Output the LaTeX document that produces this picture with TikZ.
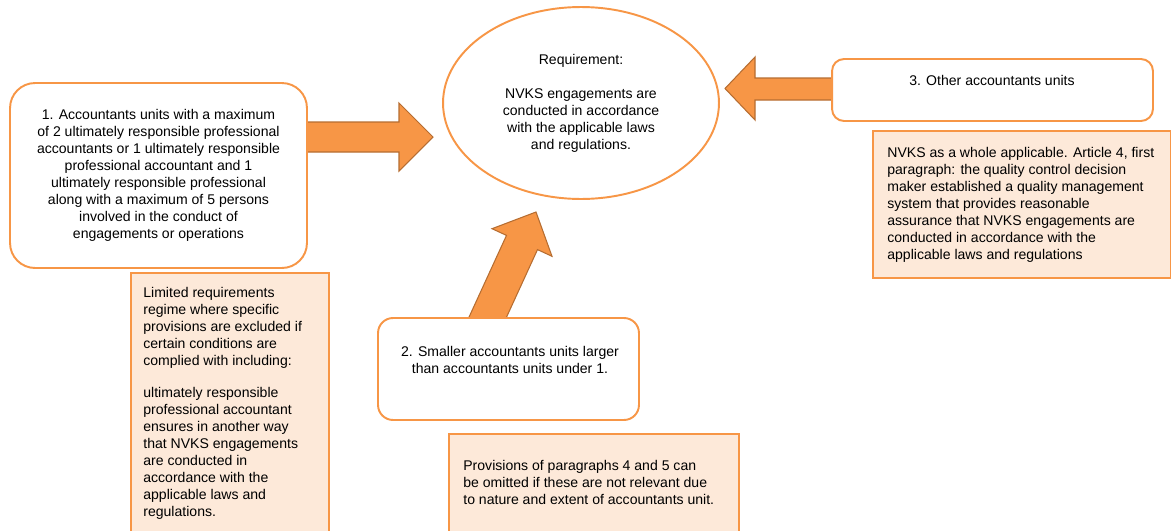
\documentclass[tikz,border=0pt]{standalone}
\usepackage{fontspec}
\setmainfont{Liberation Sans}
\usetikzlibrary{shapes.geometric}

\definecolor{accent}{HTML}{F79646}
\definecolor{accentdark}{HTML}{B66D31}
\definecolor{notefill}{HTML}{FDE9D9}

\begin{document}
\begin{tikzpicture}[x=0.02cm, y=-0.02cm,
    every node/.style={font=\fontsize{8}{9.7}\selectfont},
    roundbox/.style={draw=accent, line width=1.1pt, fill=white, rounded corners=#1},
    roundbox/.default=0.3cm,
    notebox/.style={draw=accent, line width=1.1pt, fill=notefill, inner sep=0pt},
    notetext/.style={align=left, inner sep=0pt, anchor=north west},
    blockarrow/.style={fill=accent, draw=accentdark, line width=0.6pt, line join=miter}]

    % Page size (1 unit = 1 px)
    \useasboundingbox (0,0) rectangle (1171,531);

    % Block arrows (drawn first, so that the boxes cover their tails)
    \draw[blockarrow] (300,122) -- (399,122) -- (399,103) -- (433,137)
        -- (399,171) -- (399,152) -- (300,152) -- cycle;
    \draw[blockarrow] (840,78) -- (755,78) -- (755,57) -- (725,88.5)
        -- (755,120) -- (755,100) -- (840,100) -- cycle;
    \draw[blockarrow] (464.8,326.3) -- (506.5,235.4) -- (492,228.7) -- (536,212)
        -- (552,256.3) -- (537.5,249.6) -- (495.8,340.5) -- cycle;

    % Requirement in the middle
    \node[ellipse, draw=accent, line width=1.1pt, fill=white, inner sep=0pt,
          minimum width=5.52cm, minimum height=3.84cm, align=center] (req) at (581,103)
        {Requirement:\\[9.7pt]NVKS engagements are\\conducted in accordance\\
         with the applicable laws\\and regulations.};

    % 1. small units
    \node[roundbox=0.5cm, minimum width=5.94cm, minimum height=3.7cm, align=center]
        (unit1) at (158.5,175.5)
        {1. Accountants units with a maximum\\of 2 ultimately responsible professional\\
         accountants or 1 ultimately responsible\\professional accountant and 1\\
         ultimately responsible professional\\along with a maximum of 5 persons\\
         involved in the conduct of\\engagements or operations};

    % 2. smaller units
    \node[roundbox, minimum width=5.22cm, minimum height=2.04cm] (unit2) at (508.5,369) {};
    \node[align=center, inner sep=0pt] (unit2text) at (510,360)
        {2. Smaller accountants units larger\\than accountants units under 1.};

    % 3. other units
    \node[roundbox=0.24cm, minimum width=6.42cm, minimum height=1.24cm] (unit3) at (992.5,90) {};
    \node[inner sep=0pt] (unit3text) at (992,80) {3. Other accountants units};

    % Notes below the units
    \node[notebox, anchor=north west, minimum width=3.96cm, minimum height=5.8cm]
        (note1) at (130,272) {};
    \node[notetext] (note1text) at (143,287)
        {Limited requirements\\regime where specific\\provisions are excluded if\\
         certain conditions are\\complied with including:\\[8.5pt]
         ultimately responsible\\professional accountant\\ensures in another way\\
         that NVKS engagements\\are conducted in\\accordance with the\\
         applicable laws and\\regulations.};

    \node[notebox, anchor=north west, minimum width=5.8cm, minimum height=2.6cm]
        (note2) at (448,433) {};
    \node[notetext] (note2text) at (463,460)
        {Provisions of paragraphs 4 and 5 can\\be omitted if these are not relevant due\\
         to nature and extent of accountants unit.};

    \node[notebox, anchor=north west, minimum width=5.96cm, minimum height=2.94cm]
        (note3) at (872,130) {};
    \node[notetext] (note3text) at (887,147)
        {NVKS as a whole applicable. Article 4, first\\paragraph: the quality control decision\\
         maker established a quality management\\system that provides reasonable\\
         assurance that NVKS engagements are\\conducted in accordance with the\\
         applicable laws and regulations};

\end{tikzpicture}
\end{document}
